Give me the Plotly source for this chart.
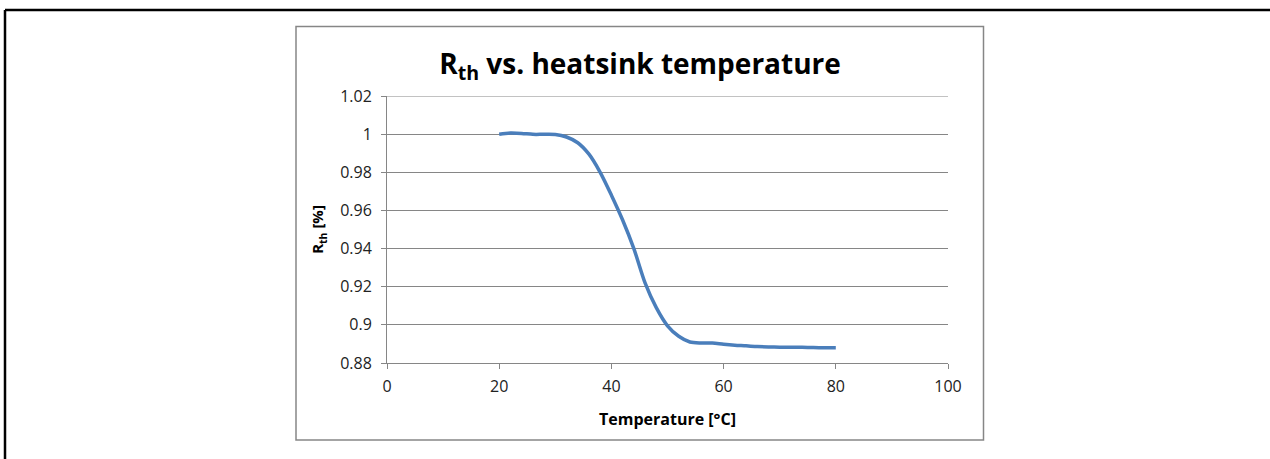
import plotly.graph_objects as go

temperature = [20, 22, 24, 26, 28, 30, 32, 34, 36, 38, 40, 42, 44, 46, 48, 50,
               52, 54, 56, 58, 60, 62, 64, 66, 68, 70, 72, 74, 76, 78, 80]
rth = [1.0000, 1.0006, 1.0004, 0.9999, 0.9999, 0.9998, 0.9985, 0.9955, 0.9895,
       0.9800, 0.9680, 0.9550, 0.9400, 0.9220, 0.9090, 0.8995, 0.8940, 0.8910,
       0.8905, 0.8905, 0.8898, 0.8893, 0.8890, 0.8886, 0.8884, 0.8883, 0.8882,
       0.8882, 0.8881, 0.8880, 0.8880]
x_ticks = [0, 20, 40, 60, 80, 100]
y_ticks = [0.88, 0.9, 0.92, 0.94, 0.96, 0.98, 1, 1.02]
y_tick_text = ["0.88", "0.9", "0.92", "0.94", "0.96", "0.98", "1", "1.02"]

W, H = 1270, 459
L, R, T, B = 387, 948, 96, 363
pw, ph = R - L, B - T

def px(x):
    return (x - L) / pw

def py(y):
    return (B - y) / ph

FONT = "'Open Sans', Lato, sans-serif"

fig = go.Figure()
fig.add_trace(go.Scatter(
    x=temperature, y=rth, mode="lines",
    line=dict(color="#4a7ebb", width=3.5, shape="spline", smoothing=0.8),
    showlegend=False, hoverinfo="x+y",
))

fig.update_layout(
    width=W, height=H,
    margin=dict(l=L, r=W - R, t=T, b=H - B, pad=0),
    paper_bgcolor="white", plot_bgcolor="white",
    font=dict(family=FONT, color="#000000"),
    title=dict(text="<b>R<sub>th</sub> vs. heatsink temperature</b>",
               x=640 / W, xanchor="center", y=1 - 64 / H, yanchor="middle",
               font=dict(size=28, family=FONT, color="#000000")),
    xaxis=dict(range=[0, 100], tickvals=x_ticks, showgrid=False,
               showline=True, linecolor="#868686", linewidth=1,
               ticks="outside", ticklen=5, tickcolor="#868686",
               ticklabelstandoff=4,
               tickfont=dict(size=16, color="#222222"), zeroline=False,
               title=dict(text="<b>Temperature [°C]</b>", font=dict(size=16), standoff=17)),
    yaxis=dict(range=[0.88, 1.02], tickvals=y_ticks, ticktext=y_tick_text,
               showgrid=True, gridcolor="#868686", gridwidth=1,
               showline=True, linecolor="#868686", linewidth=1,
               ticks="outside", ticklen=5, tickcolor="#868686",
               ticklabelstandoff=6,
               tickfont=dict(size=16, color="#222222"), zeroline=False,
               title=dict(text="<b>R<sub>th</sub> [%]</b>", font=dict(size=15), standoff=12)),
    shapes=[
        # top gridline at 1.02
        dict(type="line", xref="paper", yref="y", x0=0, x1=1,
             y0=y_ticks[-1], y1=y_ticks[-1], line=dict(color="#868686", width=1),
             layer="below"),
        # chart frame
        dict(type="rect", xref="paper", yref="paper",
             x0=px(296), x1=px(983.5), y0=py(440), y1=py(26.5),
             line=dict(color="#868686", width=1.5), layer="below"),
        # outer black border (top and left)
        dict(type="line", xref="paper", yref="paper",
             x0=px(5), x1=px(1272), y0=py(10), y1=py(10),
             line=dict(color="black", width=2.5)),
        dict(type="line", xref="paper", yref="paper",
             x0=px(5), x1=px(5), y0=py(10), y1=py(470),
             line=dict(color="black", width=2.5)),
    ],
)

fig.write_html("out.html", config={"displayModeBar": False},
               post_script="document.body.style.margin='0';")
